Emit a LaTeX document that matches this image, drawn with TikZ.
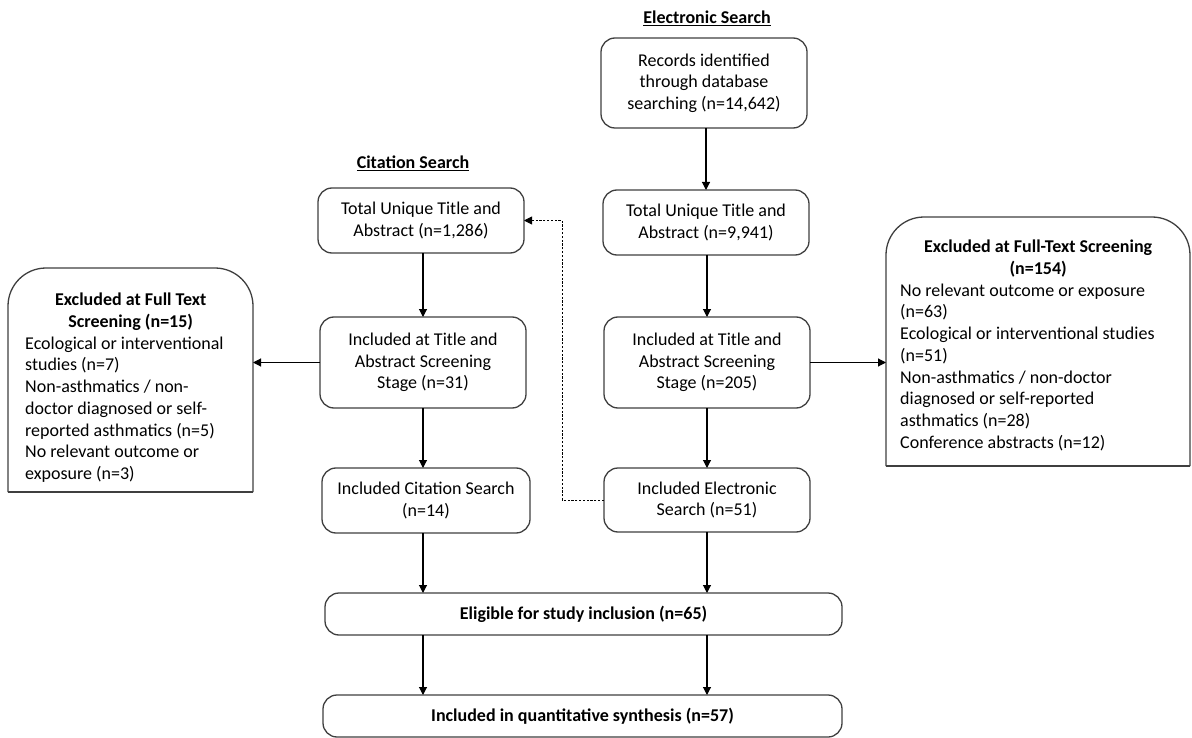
\documentclass[tikz,border=0pt]{standalone}
\usepackage{fontspec}
\setmainfont{Carlito}
\usetikzlibrary{arrows.meta, positioning}
\definecolor{boxline}{HTML}{3F3F3F}
\newcommand\boxfont{\fontsize{18}{21.7}\selectfont}
\newcommand\midline[2]{\makebox[#1][c]{\textbf{#2}}}

\begin{document}
\begin{tikzpicture}[x=1pt, y=-1pt,
  stage/.style={draw=boxline, line width=1.3pt, rounded corners=14pt,
    align=center, font=\boxfont, minimum width=206pt, inner sep=0pt, outer sep=0pt},
  wide/.style={stage, minimum width=517pt, minimum height=42pt, font=\boxfont\bfseries},
  heading/.style={font=\boxfont\bfseries, inner sep=0pt},
  exframe/.style={inner sep=0pt, outer sep=0pt},
  exline/.style={draw=boxline, line width=1.3pt},
  extext/.style={font=\boxfont, align=left, inner sep=0pt},
  arr/.style={-{Triangle[length=8pt, width=8pt]}, line width=1.1pt},
  dashlink/.style={arr, dash pattern=on 2.2pt off 1.6pt, line width=0.9pt}]

\useasboundingbox (0,0) rectangle (1192,738);

% Headings
\node[heading] (ehead) at (707,18) {\underline{Electronic Search}};
\node[heading] (chead) at (413,163) {\underline{Citation Search}};

% Electronic search column
\node[stage, minimum height=90pt] (rec)  at (704,83)    {Records identified\\through database\\searching (n=14,642)};
\node[stage, minimum height=65pt] (tot2) at (706,222.5) {Total Unique Title and\\Abstract (n=9,941)};
\node[stage, minimum height=91pt] (ta2)  at (707,362.5) {Included at Title and\\Abstract Screening\\Stage (n=205)};
\node[stage, minimum height=64pt] (inc2) at (707,500)   {Included Electronic\\Search (n=51)};

% Citation search column
\node[stage, minimum height=65pt] (tot1) at (421,220.5) {Total Unique Title and\\Abstract (n=1,286)};
\node[stage, minimum height=91pt] (ta1)  at (423,362.5) {Included at Title and\\Abstract Screening\\Stage (n=31)};
\node[stage, minimum height=65pt, minimum width=208pt] (inc1) at (426,500.5) {Included Citation Search\\(n=14)};

% Merged stages
\node[wide] (elig)  at (583.5,614) {Eligible for study inclusion (n=65)};
\node[wide, minimum width=519pt] (quant) at (582.5,716) {Included in quantitative synthesis (n=57)};

% Excluded, citation side
\node[exframe, minimum width=245pt, minimum height=224pt] (exL) at (130.5,380) {};
\draw[exline, rounded corners=38pt] (exL.south west) -- (exL.north west) -- (exL.north east) -- (exL.south east);
\draw[exline] (exL.south west) -- (exL.south east);
\node[extext, below right=25pt and 17pt of exL.north west] (exLtext)
  {\midline{211pt}{Excluded at Full Text}\\
   \midline{211pt}{Screening (n=15)}\\
   Ecological or interventional\\
   studies (n=7)\\
   Non-asthmatics / non-\\
   doctor diagnosed or self-\\
   reported asthmatics (n=5)\\
   No relevant outcome or\\
   exposure (n=3)};

% Excluded, electronic side
\node[exframe, minimum width=304pt, minimum height=249pt] (exR) at (1038,341.5) {};
\draw[exline, rounded corners=38pt] (exR.south west) -- (exR.north west) -- (exR.north east) -- (exR.south east);
\draw[exline] (exR.south west) -- (exR.south east);
\node[extext, below right=23pt and 14pt of exR.north west] (exRtext)
  {\midline{276pt}{Excluded at Full-Text Screening}\\
   \midline{276pt}{(n=154)}\\
   No relevant outcome or exposure\\
   (n=63)\\
   Ecological or interventional studies\\
   (n=51)\\
   Non-asthmatics / non-doctor\\
   diagnosed or self-reported\\
   asthmatics (n=28)\\
   Conference abstracts (n=12)};

% Arrows
\draw[arr] (rec.south -| tot2) -- (tot2.north);
\draw[arr] (tot2.south -| ta2) -- (ta2.north);
\draw[arr] (ta2.south -| inc2) -- (inc2.north);
\draw[arr] (tot1.south -| ta1) -- (ta1.north);
\draw[arr] (ta1.south) -- (ta1.south |- inc1.north);
\draw[arr] (inc1.south -| ta1) -- (elig.north -| ta1);
\draw[arr] (inc2.south -| ta2) -- (elig.north -| ta2);
\draw[arr] (elig.south -| ta1) -- (quant.north -| ta1);
\draw[arr] (elig.south -| ta2) -- (quant.north -| ta2);
\draw[arr] (ta1.west) -- (ta1.west -| exL.east);
\draw[arr] (ta2.east) -- (ta2.east -| exR.west);
\draw[dashlink] (inc2.west) -- ++(-42,0) |- (tot1.east);

\end{tikzpicture}
\end{document}
